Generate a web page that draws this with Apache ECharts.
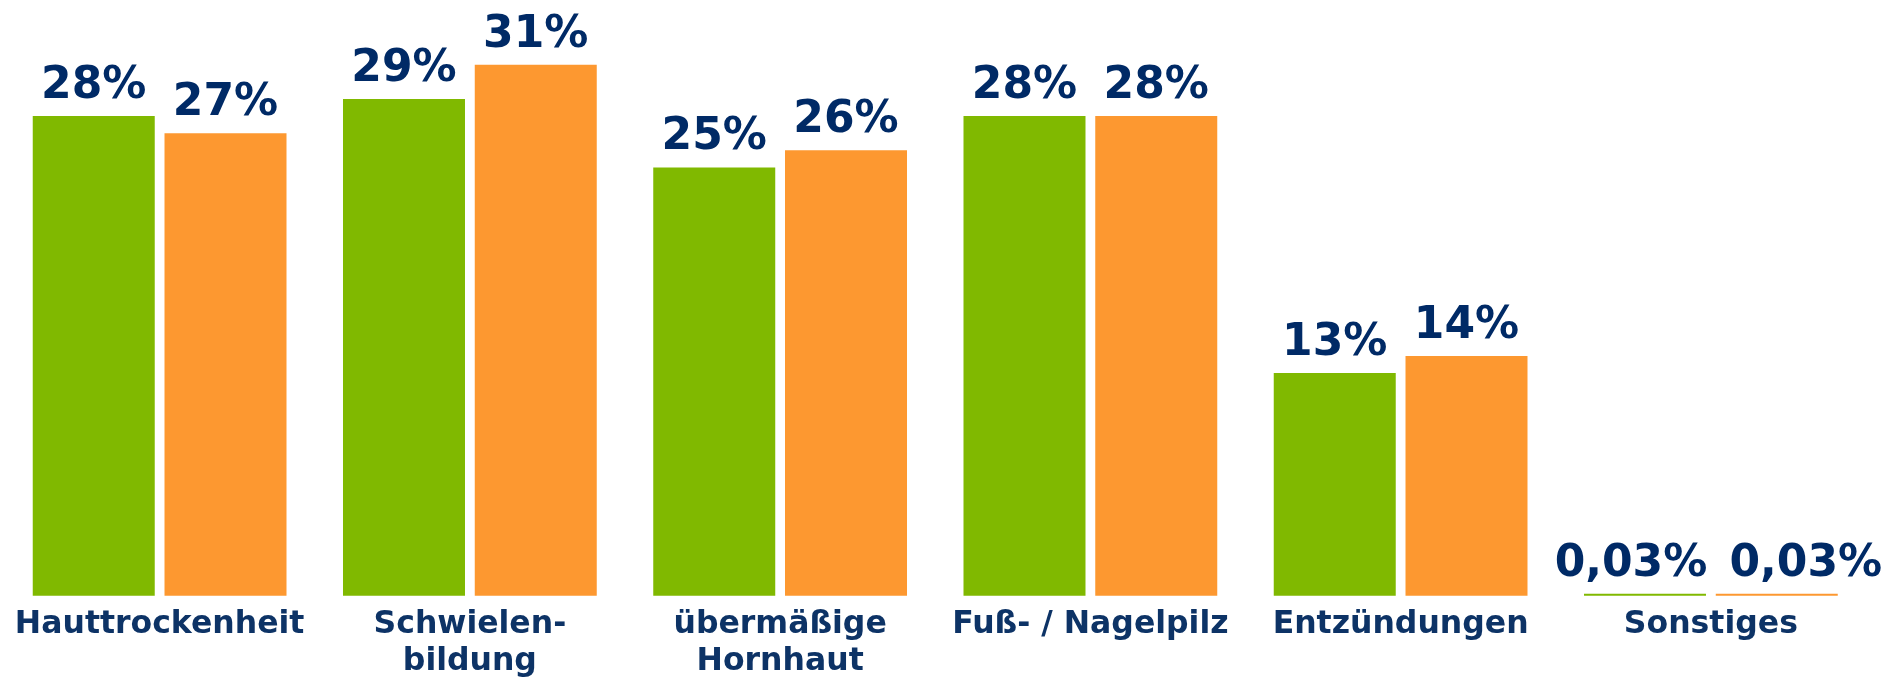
<!DOCTYPE html>
<html>
<head>
<meta charset="utf-8">
<title>Fußprobleme</title>
<script src="https://cdn.jsdelivr.net/npm/echarts@6/dist/echarts.min.js"></script>
<style>
    html, body { margin: 0; padding: 0; background: #fff; }
    #chart { width: 1903px; height: 679px; }
</style>
</head>
<body>
<div id="chart"></div>
<script>
    // Daten
    var categories = ['Hauttrockenheit', 'Schwielen-\nbildung', 'übermäßige\nHornhaut', 'Fuß- / Nagelpilz', 'Entzündungen', 'Sonstiges'];
    var serieGruen = [28, 29, 25, 28, 13, 0.03];
    var serieOrange = [27, 31, 26, 28, 14, 0.03];

    var dom = document.getElementById('chart');
    var myChart = echarts.init(dom);

    function pct(p) {
        return String(p.value).replace('.', ',') + '%';
    }

    // die beiden kleinen Labels bei "Sonstiges" sind im Original seitlich verschoben
    function toData(values, shiftX) {
        return values.map(function (v, i) {
            if (i === values.length - 1) {
                return { value: v, label: { offset: [shiftX, 0] } };
            }
            return v;
        });
    }

    var valueLabel = {
        show: true,
        position: 'top',
        distance: 4,
        formatter: pct,
        fontFamily: 'DejaVu Sans',
        fontWeight: 'bold',
        fontSize: 44,
        lineHeight: 51,
        color: '#002a66'
    };

    var option = {
        animation: false,
        grid: {
            left: 4.5,
            right: 37,
            top: 13.3,
            bottom: 83.3,
            containLabel: false,
            outerBoundsMode: 'none'
        },
        xAxis: {
            type: 'category',
            data: categories,
            axisLine: { show: false },
            axisTick: { show: false },
            axisLabel: {
                interval: 0,
                margin: 11,
                fontFamily: 'DejaVu Sans',
                fontWeight: 'bold',
                fontSize: 31.5,
                lineHeight: 37,
                color: '#0d3366'
            }
        },
        yAxis: {
            type: 'value',
            min: 0,
            max: 34,
            show: false,
            splitLine: { show: false }
        },
        series: [
            {
                name: 'grün',
                type: 'bar',
                data: toData(serieGruen, -14),
                barWidth: 122,
                barGap: '8%',
                barMinHeight: 2,
                itemStyle: { color: '#80b900' },
                label: valueLabel
            },
            {
                name: 'orange',
                type: 'bar',
                data: toData(serieOrange, 29),
                barWidth: 122,
                barGap: '8%',
                barMinHeight: 2,
                itemStyle: { color: '#fd9830' },
                label: valueLabel
            }
        ]
    };

    myChart.setOption(option, true);
</script>
</body>
</html>
